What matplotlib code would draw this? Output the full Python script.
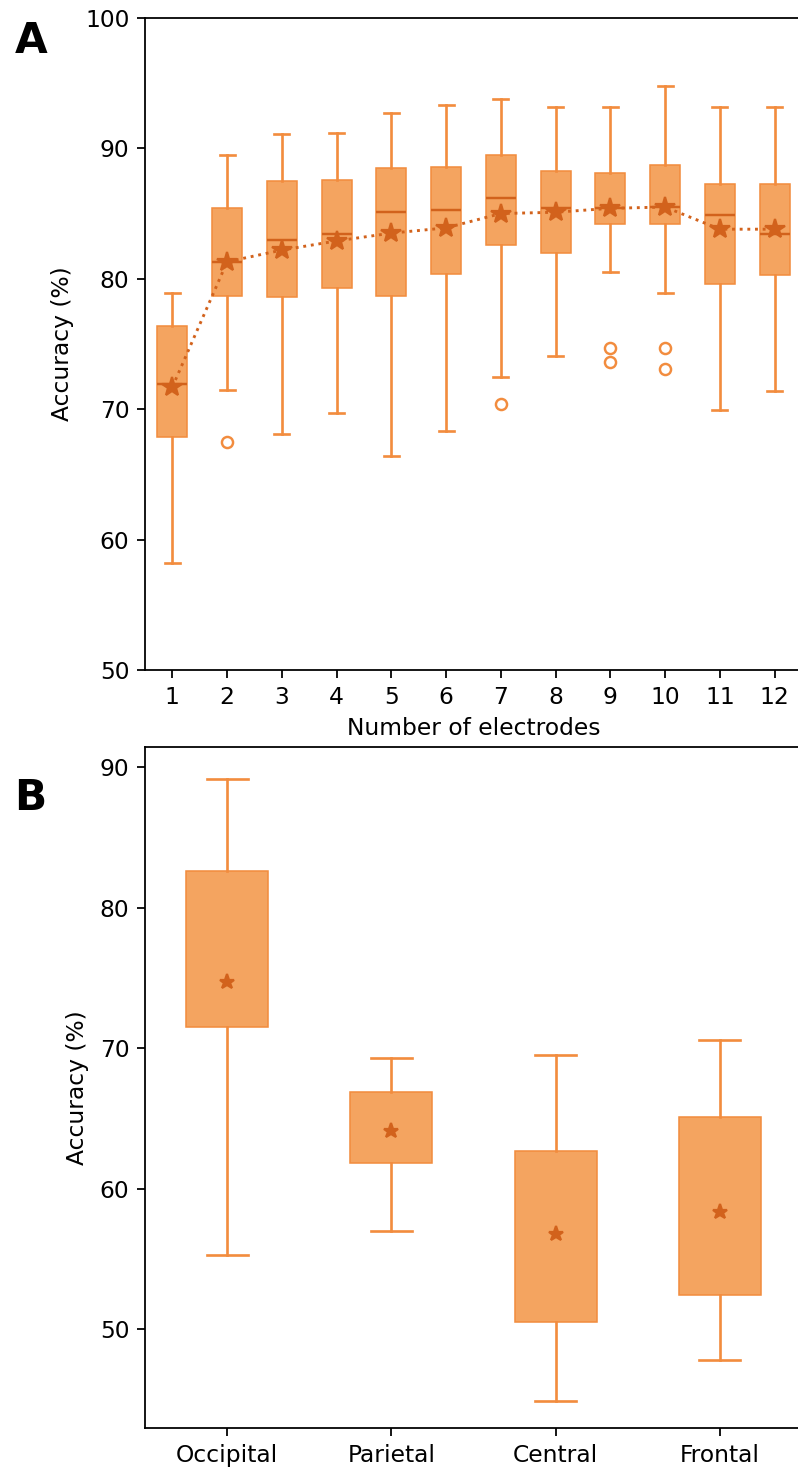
import matplotlib
matplotlib.use('Agg')
import matplotlib.pyplot as plt

# panel A: accuracy vs number of electrodes
n_electrodes = [1, 2, 3, 4, 5, 6, 7, 8, 9, 10, 11, 12]
whis_hi_a = [78.9, 89.5, 91.1, 91.2, 92.7, 93.3, 93.8, 93.2, 93.2, 94.8, 93.2, 93.2]
q3_a = [76.4, 85.4, 87.5, 87.6, 88.5, 88.6, 89.5, 88.3, 88.1, 88.7, 87.3, 87.3]
med_a = [71.9, 81.3, 83.0, 83.4, 85.1, 85.3, 86.2, 85.4, 85.4, 85.5, 84.9, 83.4]
q1_a = [67.9, 78.7, 78.6, 79.3, 78.7, 80.4, 82.6, 82.0, 84.2, 84.2, 79.6, 80.3]
whis_lo_a = [58.2, 71.5, 68.1, 69.7, 66.4, 68.3, 72.5, 74.1, 80.5, 78.9, 69.9, 71.4]
mean_a = [71.7, 81.3, 82.2, 82.9, 83.5, 83.9, 85.0, 85.1, 85.4, 85.5, 83.8, 83.8]
fliers_a = [[], [67.5], [], [], [], [], [70.4], [], [74.7, 73.6], [74.7, 73.1], [], []]

# panel B: accuracy per region
regions = ['Occipital', 'Parietal', 'Central', 'Frontal']
whis_hi_b = [89.2, 69.3, 69.5, 70.6]
q3_b = [82.6, 66.9, 62.7, 65.1]
mean_b = [74.7, 64.1, 56.8, 58.3]
q1_b = [71.5, 61.8, 50.5, 52.4]
whis_lo_b = [55.3, 57.0, 44.9, 47.8]

fill_col = '#F4A460'
line_col = '#F28C3E'
dark_col = '#D2621C'


def make_stats(hi, q3, med, q1, lo, mean, fliers):
    stats = []
    for i in range(len(hi)):
        stats.append({'whishi': hi[i], 'q3': q3[i], 'med': med[i], 'q1': q1[i],
                      'whislo': lo[i], 'mean': mean[i], 'fliers': fliers[i]})
    return stats


def style_kwargs(star_size, med_visible):
    return dict(
        patch_artist=True,
        showmeans=True,
        boxprops=dict(facecolor=fill_col, edgecolor=line_col, linewidth=0.7),
        whiskerprops=dict(color=line_col, linewidth=1.2),
        capprops=dict(color=line_col, linewidth=1.2),
        medianprops=dict(color=dark_col if med_visible else fill_col,
                         linewidth=1.1 if med_visible else 0),
        meanprops=dict(marker='*', markerfacecolor=dark_col, markeredgecolor=dark_col,
                       markersize=star_size),
        flierprops=dict(marker='o', markerfacecolor='none', markeredgecolor=line_col,
                        markersize=5, markeredgewidth=1.1),
    )


fig = plt.figure(figsize=(798 / 160, 1469 / 160), dpi=160)

# --- A ---
ax1 = fig.add_axes([0.1817, 0.5439, 0.8233, 0.4439])
stats_a = make_stats(whis_hi_a, q3_a, med_a, q1_a, whis_lo_a, mean_a, fliers_a)
ax1.bxp(stats_a, positions=n_electrodes, widths=0.55, **style_kwargs(9, True))
ax1.plot(n_electrodes, mean_a, ':', color=dark_col, linewidth=1.3, zorder=3)
ax1.set_xlim(0.5, 12.5)
ax1.set_ylim(50, 100)
ax1.set_yticks([50, 60, 70, 80, 90, 100])
ax1.set_xticks(n_electrodes)
ax1.set_xticklabels([str(n) for n in n_electrodes])
ax1.set_xlabel('Number of electrodes', fontsize=10.5)
ax1.set_ylabel('Accuracy (%)', fontsize=10.5, labelpad=5)
ax1.tick_params(labelsize=10.5)
fig.text(0.018, 0.972, 'A', fontsize=19, fontweight='bold', va='center')

# --- B ---
ax2 = fig.add_axes([0.1817, 0.0279, 0.8233, 0.4636])
stats_b = make_stats(whis_hi_b, q3_b, mean_b, q1_b, whis_lo_b, mean_b, [[]] * 4)
ax2.bxp(stats_b, positions=range(1, 5), widths=0.5, **style_kwargs(7, False))
ax2.set_xlim(0.5, 4.5)
ax2.set_ylim(42.95, 91.45)
ax2.set_yticks([50, 60, 70, 80, 90])
ax2.set_xticks(range(1, 5))
ax2.set_xticklabels(regions)
ax2.set_ylabel('Accuracy (%)', fontsize=10.5, labelpad=5)
ax2.tick_params(labelsize=10.5)
fig.text(0.018, 0.457, 'B', fontsize=19, fontweight='bold', va='center')

fig.savefig('out.png', dpi=160)
